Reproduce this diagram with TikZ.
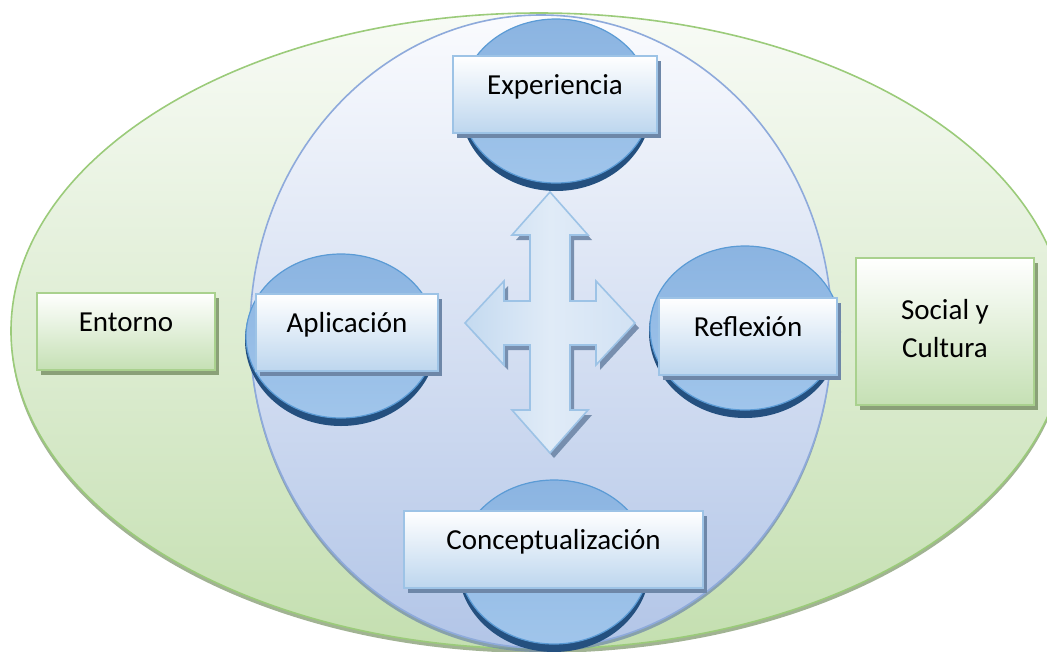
\documentclass[tikz,border=0pt]{standalone}
\usepackage{fontspec}
\setmainfont{Carlito}
\usetikzlibrary{shadows}

\definecolor{verdeBorde}{RGB}{155,203,122}
\definecolor{verdeFondo}{RGB}{196,223,176}
\definecolor{verdeClaro}{RGB}{248,251,246}
\definecolor{azulBorde}{RGB}{142,170,219}
\definecolor{azulFondo}{RGB}{178,197,231}
\definecolor{azulClaro}{RGB}{250,251,254}
\definecolor{circBorde}{RGB}{91,155,213}
\definecolor{circArriba}{RGB}{139,180,225}
\definecolor{circAbajo}{RGB}{160,197,235}
\definecolor{circOscuro}{RGB}{36,80,127}
\definecolor{cajaBorde}{RGB}{157,195,230}
\definecolor{cajaAbajo}{RGB}{189,214,238}
\definecolor{sombraAzul}{RGB}{110,135,168}
\definecolor{sombraVerde}{RGB}{138,160,120}
\definecolor{cajaVerde}{RGB}{197,224,180}
\definecolor{cajaVerdeBorde}{RGB}{169,209,142}
\definecolor{flechaA}{RGB}{196,218,240}
\definecolor{flechaB}{RGB}{224,235,247}
\definecolor{flechaC}{RGB}{210,226,244}

\begin{document}
\begin{tikzpicture}[x=1pt, y=-1pt,
  cajaazul/.style={draw=cajaBorde, line width=1.6pt, top color=white, bottom color=cajaAbajo,
    drop shadow={shadow xshift=4pt, shadow yshift=-5pt, fill=sombraAzul, opacity=1},
    minimum height=77pt, inner sep=0pt, text height=20pt, text depth=20pt,
    font=\fontsize{29}{38}\selectfont},
  cajaverde/.style={draw=cajaVerdeBorde, line width=1.6pt, top color=white, bottom color=cajaVerde,
    drop shadow={shadow xshift=4pt, shadow yshift=-5pt, fill=sombraVerde, opacity=1},
    minimum width=178pt, inner sep=0pt, font=\fontsize{29}{38}\selectfont},
  globo/.style={draw=circBorde, line width=1.2pt, top color=circArriba, bottom color=circAbajo}]

\useasboundingbox (0,0) rectangle (1047,651);
\clip (0,0) rectangle (1047,651);

% entorno y ciclo
\draw[verdeBorde, line width=1.6pt, top color=verdeClaro, bottom color=verdeFondo,
  drop shadow={shadow xshift=0pt, shadow yshift=-4pt, fill=sombraVerde, opacity=.8}]
  (539,331) ellipse [x radius=528pt, y radius=318pt];
\draw[azulBorde, line width=1.6pt, top color=azulClaro, bottom color=azulFondo,
  drop shadow={shadow xshift=0pt, shadow yshift=-4pt, fill=sombraAzul, opacity=.7}]
  (541,331.5) ellipse [x radius=291pt, y radius=316.5pt];

% globos
\foreach \cx/\cy in {556/105, 341/340, 745/332, 554/566}{
  \fill[circOscuro] (\cx,\cy) ellipse [x radius=96pt, y radius=86pt];
  \draw[globo] (\cx,{\cy-4}) ellipse [x radius=95pt, y radius=82pt];
}

% flecha en cruz
\begin{scope}[shift={(550,323)}]
\draw[cajaBorde, line width=1.6pt, left color=flechaA, right color=flechaC, middle color=flechaB,
  drop shadow={shadow xshift=4pt, shadow yshift=-5pt, fill=sombraAzul, opacity=.9}]
  (0,-131) -- (38,-88) -- (20,-88) -- (20,-22) -- (46,-22) -- (46,-42) -- (85,0)
  -- (46,42) -- (46,22) -- (20,22) -- (20,87) -- (38,87) -- (0,130) -- (-38,87)
  -- (-20,87) -- (-20,22) -- (-46,22) -- (-46,42) -- (-85,0) -- (-46,-42)
  -- (-46,-22) -- (-20,-22) -- (-20,-88) -- (-38,-88) -- cycle;
\end{scope}

\node[cajaazul, minimum width=204pt] (exp) at (555,94.5) {Experiencia};
\node[cajaazul, minimum width=182pt] (apl) at (347,332.5) {Aplicación};
\node[cajaazul, minimum width=178pt] (refl) at (748,336.5) {Reflexión};
\node[cajaazul, minimum width=299pt] (concep) at (553.5,549.5) {Conceptualización};

\node[cajaverde, minimum height=77pt, text height=20pt, text depth=20pt] (ent) at (126,331.5) {Entorno};
\node[cajaverde, minimum height=147pt, align=center, text depth=7pt] (soc) at (945,331.5) {Social y\\Cultura};

\end{tikzpicture}
\end{document}
